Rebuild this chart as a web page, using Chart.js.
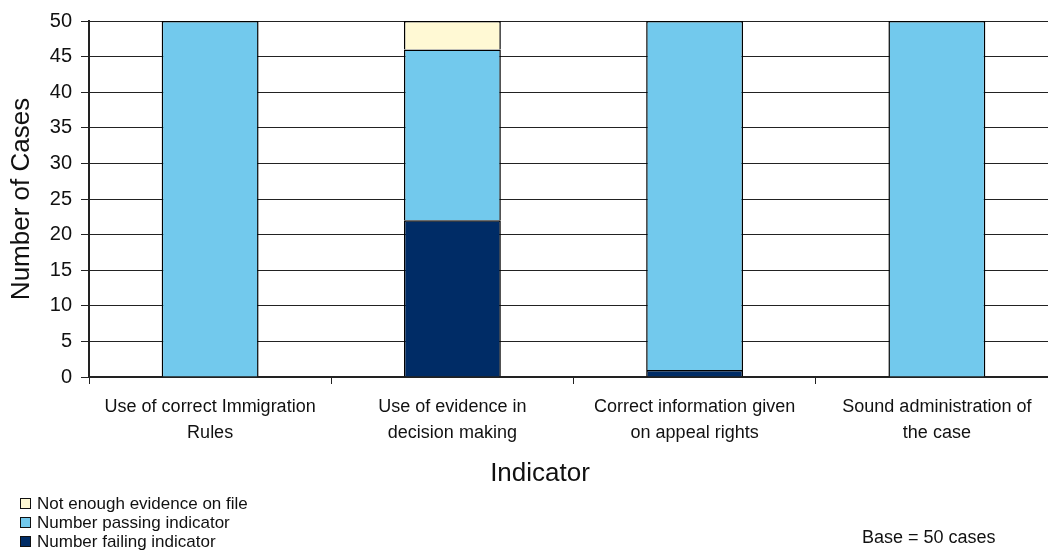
<!DOCTYPE html>
<html>
<head>
<meta charset="utf-8">
<script src="https://cdn.jsdelivr.net/npm/chart.js@4"></script>
<style>
  html, body { margin: 0; padding: 0; background: #fff; overflow: hidden; width: 1048px; height: 552px; }
  #wrap { position: absolute; left: 0; top: 0; width: 1058px; height: 552px; }
  .txt { position: absolute; font-family: "Liberation Sans", Arial, sans-serif; color: #111; white-space: nowrap; }
  .leg { position: absolute; left: 20px; font-family: "Liberation Sans", Arial, sans-serif; font-size: 17px; color: #111; line-height: 19px; }
  .leg span.sq { display: inline-block; width: 9px; height: 9px; border: 1px solid #111; margin-right: 6px; vertical-align: 0px; }
</style>
</head>
<body>
<div id="wrap"><canvas id="c"></canvas></div>
<div class="txt" id="xtitle" style="left:440px; top:457px; width:200px; text-align:center; font-size:26px;">Indicator</div>
<div class="leg" style="top:494px;">
  <div><span class="sq" style="background:#FFF9D4"></span>Not enough evidence on file</div>
  <div><span class="sq" style="background:#72C9ED"></span>Number passing indicator</div>
  <div><span class="sq" style="background:#002C66"></span>Number failing indicator</div>
</div>
<div class="txt" style="left:862px; top:527px; font-size:18px;">Base = 50 cases</div>
<script>
const categories = [
  ["Use of correct Immigration", "Rules"],
  ["Use of evidence in", "decision making"],
  ["Correct information given", "on appeal rights"],
  ["Sound administration of", "the case"]
];
const failing = [0, 22, 1, 0];
const passing = [50, 24, 49, 50];
const notEnough = [0, 4, 0, 0];
const yTicks = [0, 5, 10, 15, 20, 25, 30, 35, 40, 45, 50];

const ctx = document.getElementById('c');
new Chart(ctx, {
  type: 'bar',
  data: {
    labels: categories,
    datasets: [
      { label: 'Number failing indicator', data: failing, backgroundColor: '#002C66', borderColor: '#000', borderWidth: 1.5 },
      { label: 'Number passing indicator', data: passing, backgroundColor: '#72C9ED', borderColor: '#000', borderWidth: 1.5 },
      { label: 'Not enough evidence on file', data: notEnough, backgroundColor: '#FFF9D4', borderColor: '#000', borderWidth: 1.5 }
    ]
  },
  options: {
    responsive: true,
    maintainAspectRatio: false,
    animation: false,
    layout: { padding: { top: 20, left: 0, right: 0, bottom: 0 } },
    datasets: { bar: { barPercentage: 0.4, categoryPercentage: 1.0 } },
    plugins: { legend: { display: false }, tooltip: { enabled: false } },
    scales: {
      x: {
        stacked: true,
        afterFit: (s) => { s.height = 175; },
        grid: { display: true, drawOnChartArea: false, drawTicks: true, tickLength: 7, color: '#222', offset: true },
        border: { display: true, color: '#222', width: 2 },
        ticks: {
          color: '#111',
          padding: 10,
          maxRotation: 0,
          autoSkip: false,
          font: { family: '"Liberation Sans", Arial, sans-serif', size: 18, lineHeight: 1.45 }
        }
      },
      y: {
        stacked: true,
        min: 0,
        max: 50,
        afterFit: (s) => { s.width = 89; },
        afterBuildTicks: (s) => { s.ticks = yTicks.map(v => ({ value: v })); },
        grid: { color: '#222', lineWidth: 1, tickLength: 8, drawTicks: true },
        border: { display: true, color: '#222', width: 2 },
        ticks: {
          color: '#111',
          padding: 9,
          stepSize: 5,
          font: { family: '"Liberation Sans", Arial, sans-serif', size: 20 }
        },
        title: {
          display: true,
          text: 'Number of Cases',
          color: '#111',
          padding: { top: 6, bottom: 0 },
          font: { family: '"Liberation Sans", Arial, sans-serif', size: 26 }
        }
      }
    }
  }
});
</script>
</body>
</html>
